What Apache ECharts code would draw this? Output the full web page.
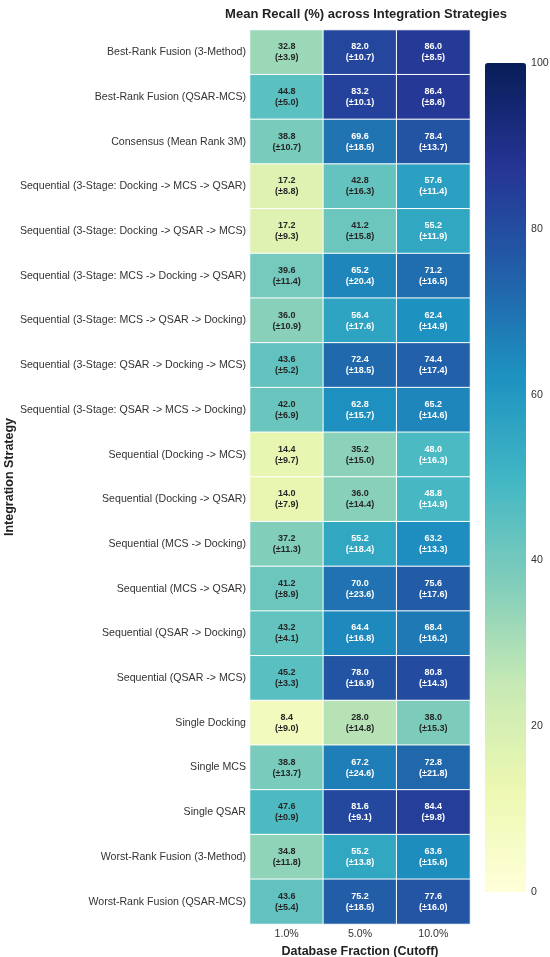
<!DOCTYPE html>
<html>
<head>
<meta charset="utf-8">
<script src="https://cdn.jsdelivr.net/npm/echarts@6/dist/echarts.min.js"></script>
<style>
  html, body { margin: 0; padding: 0; background: #fff; }
  #main { width: 550px; height: 957px; }
</style>
</head>
<body>
<div id="main"></div>
<script>
// integration strategies, top to bottom
var strategies = [
  'Best-Rank Fusion (3-Method)',
  'Best-Rank Fusion (QSAR-MCS)',
  'Consensus (Mean Rank 3M)',
  'Sequential (3-Stage: Docking -> MCS -> QSAR)',
  'Sequential (3-Stage: Docking -> QSAR -> MCS)',
  'Sequential (3-Stage: MCS -> Docking -> QSAR)',
  'Sequential (3-Stage: MCS -> QSAR -> Docking)',
  'Sequential (3-Stage: QSAR -> Docking -> MCS)',
  'Sequential (3-Stage: QSAR -> MCS -> Docking)',
  'Sequential (Docking -> MCS)',
  'Sequential (Docking -> QSAR)',
  'Sequential (MCS -> Docking)',
  'Sequential (MCS -> QSAR)',
  'Sequential (QSAR -> Docking)',
  'Sequential (QSAR -> MCS)',
  'Single Docking',
  'Single MCS',
  'Single QSAR',
  'Worst-Rank Fusion (3-Method)',
  'Worst-Rank Fusion (QSAR-MCS)'
];
var cutoffs = ['1.0%', '5.0%', '10.0%'];

// mean recall per cutoff
var mean1 = [32.8, 44.8, 38.8, 17.2, 17.2, 39.6, 36.0, 43.6, 42.0, 14.4, 14.0, 37.2, 41.2, 43.2, 45.2, 8.4, 38.8, 47.6, 34.8, 43.6];
var mean5 = [82.0, 83.2, 69.6, 42.8, 41.2, 65.2, 56.4, 72.4, 62.8, 35.2, 36.0, 55.2, 70.0, 64.4, 78.0, 28.0, 67.2, 81.6, 55.2, 75.2];
var mean10 = [86.0, 86.4, 78.4, 57.6, 55.2, 71.2, 62.4, 74.4, 65.2, 48.0, 48.8, 63.2, 75.6, 68.4, 80.8, 38.0, 72.8, 84.4, 63.6, 77.6];

// standard deviations per cutoff
var sd1 = [3.9, 5.0, 10.7, 8.8, 9.3, 11.4, 10.9, 5.2, 6.9, 9.7, 7.9, 11.3, 8.9, 4.1, 3.3, 9.0, 13.7, 0.9, 11.8, 5.4];
var sd5 = [10.7, 10.1, 18.5, 16.3, 15.8, 20.4, 17.6, 18.5, 15.7, 15.0, 14.4, 18.4, 23.6, 16.8, 16.9, 14.8, 24.6, 9.1, 13.8, 18.5];
var sd10 = [8.5, 8.6, 13.7, 11.4, 11.9, 16.5, 14.9, 17.4, 14.6, 16.3, 14.9, 13.3, 17.6, 16.2, 14.3, 15.3, 21.8, 9.8, 15.6, 16.0];

var colorbarTicks = [0, 20, 40, 60, 80, 100];

var means = [mean1, mean5, mean10];
var sds = [sd1, sd5, sd10];

var data = [];
for (var c = 0; c < cutoffs.length; c++) {
  for (var r = 0; r < strategies.length; r++) {
    var v = means[c][r];
    data.push({
      value: [c, r, v, sds[c][r]],
      label: { color: v >= 47.8 ? '#ffffff' : '#262626' }
    });
  }
}

var font = '"Liberation Sans", Arial, Helvetica, sans-serif';
var chart = echarts.init(document.getElementById('main'));

chart.setOption({
  backgroundColor: '#fff',
  textStyle: { fontFamily: font },
  title: {
    text: 'Mean Recall (%) across Integration Strategies',
    left: 361,
    top: 3,
    textAlign: 'center',
    textStyle: { fontSize: 13, fontWeight: 'bold', color: '#222', fontFamily: font }
  },
  grid: [
    { left: 250, top: 30, width: 220, height: 894, outerBoundsMode: 'none', containLabel: false },
    { left: 485, top: 63, width: 41, height: 829, outerBoundsMode: 'none', containLabel: false }
  ],
  xAxis: [
    {
      type: 'category',
      data: cutoffs,
      gridIndex: 0,
      axisLine: { show: false },
      axisTick: { show: false },
      splitArea: { show: false },
      axisLabel: { fontSize: 10.6, color: '#333', margin: 5 },
      name: 'Database Fraction (Cutoff)',
      nameLocation: 'middle',
      nameGap: 15,
      nameTextStyle: { fontSize: 12.5, fontWeight: 'bold', color: '#222' }
    },
    { type: 'value', gridIndex: 1, show: false, min: 0, max: 1 }
  ],
  yAxis: [
    {
      type: 'category',
      data: strategies,
      inverse: true,
      gridIndex: 0,
      axisLine: { show: false },
      axisTick: { show: false },
      axisLabel: { fontSize: 10.6, color: '#333', margin: 4 },
      name: 'Integration Strategy',
      nameLocation: 'middle',
      nameRotate: 90,
      nameGap: 233,
      nameTextStyle: { fontSize: 12.5, fontWeight: 'bold', color: '#222' }
    },
    {
      type: 'value',
      gridIndex: 1,
      position: 'right',
      min: 0,
      max: 100,
      interval: 20,
      axisLine: { show: false },
      axisTick: { show: false },
      splitLine: { show: false },
      axisLabel: {
        fontSize: 10.6, color: '#333', margin: 5,
        formatter: function (v) { return colorbarTicks.indexOf(v) >= 0 ? String(v) : ''; }
      }
    }
  ],
  visualMap: {
    type: 'continuous',
    min: 0,
    max: 100,
    dimension: 2,
    seriesIndex: 0,
    calculable: false,
    left: 485,
    top: 63,
    itemWidth: 41,
    itemHeight: 829,
    padding: 0,
    text: null,
    showLabel: false,
    inRange: {
      color: ['#ffffd9', '#edf8b1', '#c7e9b4', '#7fcdbb', '#41b6c4', '#1d91c0', '#225ea8', '#253494', '#081d58']
    }
  },
  series: [{
    type: 'heatmap',
    xAxisIndex: 0,
    yAxisIndex: 0,
    data: data,
    itemStyle: { borderColor: '#ffffff', borderWidth: 1 },
    emphasis: { disabled: true },
    label: {
      show: true,
      fontSize: 9,
      fontWeight: 'bold',
      lineHeight: 11,
      fontFamily: font,
      formatter: function (p) {
        return p.value[2].toFixed(1) + '\n(\u00b1' + p.value[3].toFixed(1) + ')';
      }
    }
  }]
});
</script>
</body>
</html>
